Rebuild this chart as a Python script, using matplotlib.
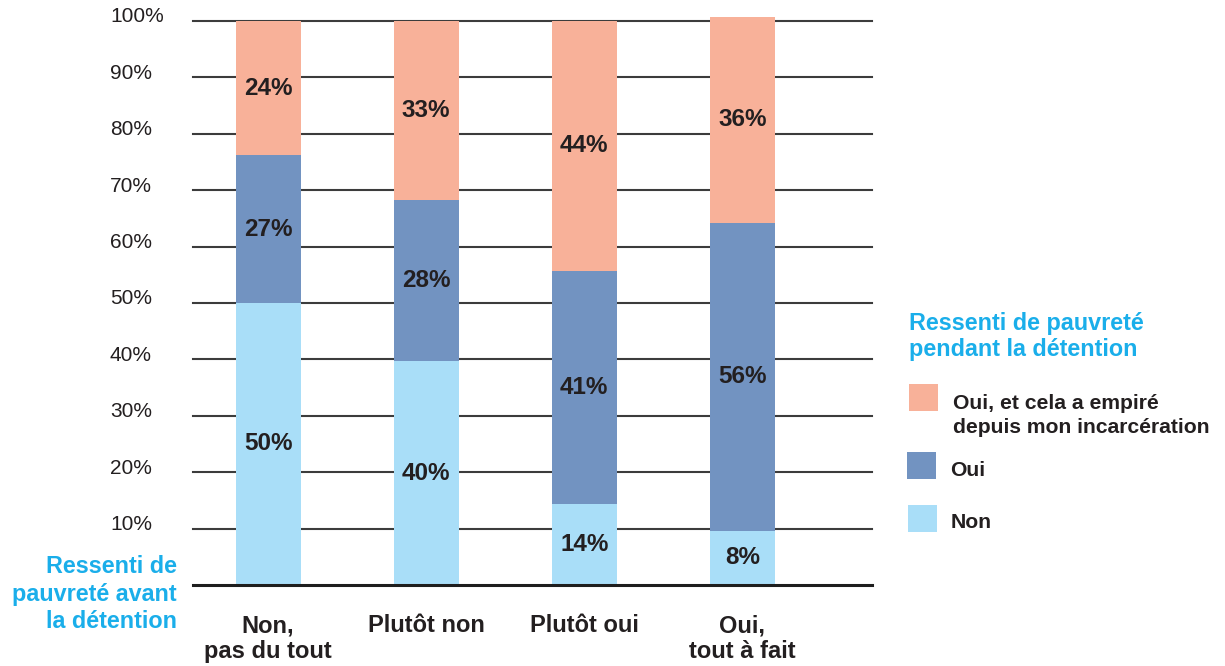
import matplotlib
matplotlib.use("Agg")
import matplotlib.pyplot as plt
from matplotlib.patches import Rectangle

plt.rcParams['font.family'] = ['Liberation Sans', 'DejaVu Sans']

categories = ["Non,\npas du tout", "Plutôt non", "Plutôt oui", "Oui,\ntout à fait"]
non_vals = [50.0, 39.7, 14.4, 9.6]
oui_vals = [26.2, 28.6, 41.3, 54.6]
pire_vals = [23.8, 31.7, 44.3, 36.5]
non_labels = ["50%", "40%", "14%", "8%"]
oui_labels = ["27%", "28%", "41%", "56%"]
pire_labels = ["24%", "33%", "44%", "36%"]
yticks = [10, 20, 30, 40, 50, 60, 70, 80, 90, 100]
ytick_labels = ["10%", "20%", "30%", "40%", "50%", "60%", "70%", "80%", "90%", "100%"]
series_names = ["Oui, et cela a empiré\ndepuis mon incarcération", "Oui", "Non"]

C_PIRE = "#F8B199"
C_OUI = "#7293C1"
C_NON = "#A9DEF8"
C_TITLE = "#1AAEEA"
C_TEXT = "#231F20"

W, H = 1225, 666
fig = plt.figure(figsize=(W / 100, H / 100), dpi=100)

def fx(x):
    return x / W

def fy(y):
    return 1 - y / H

ax = fig.add_axes([fx(193), fy(585), fx(872) - fx(193), fy(21) - fy(585)])
ax.set_xlim(-0.475, 3.82)
ax.set_ylim(0, 100)

for v in yticks:
    ax.axhline(v, color="#3c3c3c", lw=1.5, zorder=0, clip_on=False)
ax.axhline(0, color="#1e1e1e", lw=2.2, zorder=3, clip_on=False)

xs = list(range(len(categories)))
bw = 0.41
ax.bar(xs, non_vals, width=bw, color=C_NON, zorder=2, clip_on=False)
bottoms2 = non_vals
ax.bar(xs, oui_vals, width=bw, bottom=bottoms2, color=C_OUI, zorder=2, clip_on=False)
bottoms3 = [a + b for a, b in zip(non_vals, oui_vals)]
ax.bar(xs, pire_vals, width=bw, bottom=bottoms3, color=C_PIRE, zorder=2, clip_on=False)

for x, n, o, p, ln, lo, lp in zip(xs, non_vals, oui_vals, pire_vals, non_labels, oui_labels, pire_labels):
    for bottom, h, lab in [(0, n, ln), (n, o, lo), (n + o, p, lp)]:
        ax.text(x, bottom + h / 2, lab, ha="center", va="center", fontsize=17.5,
                fontweight="bold", color=C_TEXT, zorder=4)

# y tick labels (left aligned, slightly above gridlines)
for v, lab in zip(yticks, ytick_labels):
    ax.annotate(lab, xy=(0, v), xycoords=("axes fraction", "data"),
                xytext=(110 - 193, 4), textcoords="offset pixels",
                ha="left", va="center", fontsize=15, color=C_TEXT)

ax.set_xticks([])
ax.set_yticks([])
for s in ax.spines.values():
    s.set_visible(False)

# category labels
for x, cat in zip(xs, categories):
    ax.annotate(cat, xy=(x, 0), xycoords="data", xytext=(0, -29), textcoords="offset pixels",
                ha="center", va="top", fontsize=17, fontweight="bold", color=C_TEXT,
                linespacing=1.15)

# left axis title
fig.text(fx(177), fy(594), "Ressenti de\npauvreté avant\nla détention", ha="right", va="center",
         fontsize=16.8, fontweight="bold", color=C_TITLE, linespacing=1.23)

# legend
fig.text(fx(909), fy(336.5), "Ressenti de pauvreté\npendant la détention", ha="left", va="center",
         fontsize=16.8, fontweight="bold", color=C_TITLE, linespacing=1.22)
leg_items = [(C_PIRE, 909, 384, 953, 415.5), (C_OUI, 907, 452, 950, 471), (C_NON, 908, 505, 951, 523)]
for (col, bx, by, tx, ty), name in zip(leg_items, series_names):
    fig.patches.append(Rectangle((fx(bx), fy(by + 27)), 29 / W, 27 / H, transform=fig.transFigure,
                                 facecolor=col, edgecolor="none"))
    fig.text(fx(tx), fy(ty), name, ha="left", va="center", fontsize=15.2, fontweight="bold",
             color=C_TEXT, linespacing=1.3)

fig.savefig("out.png", dpi=100)
